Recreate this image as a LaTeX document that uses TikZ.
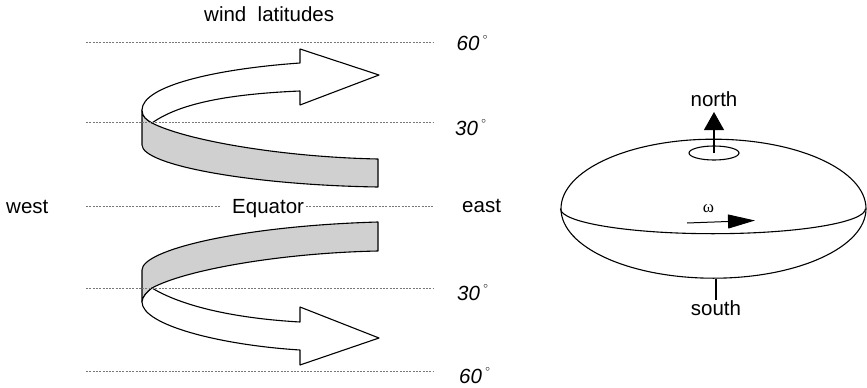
\documentclass[tikz,border=0pt]{standalone}
\usepackage{fontspec}
\setmainfont{Liberation Sans}
\newfontfamily\greekserif{Liberation Serif}
\usetikzlibrary{arrows.meta,shapes.geometric}
\definecolor{ribbon}{RGB}{208,208,208}
\definecolor{guide}{RGB}{120,120,120}
\newcommand{\degmark}{\,\raisebox{0.55em}{\fontsize{9}{9}\selectfont$\circ$}}
\begin{document}
\begin{tikzpicture}[x=1pt,y=-1pt,
  lbl/.style={inner sep=0pt, font=\fontsize{20.5}{24}\selectfont},
  deg/.style={inner sep=0pt, font=\fontsize{20.5}{24}\selectfont\itshape, anchor=base west},
  latline/.style={draw=guide, line width=0.6pt, dash pattern=on 2pt off 1.3pt},
  outline/.style={line width=1.1pt, line join=round},
  band/.style={outline, fill=ribbon},
  sheet/.style={outline, fill=white},
]
\useasboundingbox (0,0) rectangle (867,388);

% upper wind ribbon: shaded underside, then the white arrow on top
\draw[band] (142,110) -- (142,145)
  .. controls (142,165) and (250,185) .. (378,187) -- (378,159)
  .. controls (280,157) and (185,140) .. (152,123)
  .. controls (147,120) and (142,117) .. (142,110) -- cycle;
\draw[sheet] (142,110) .. controls (142,86) and (215,69) .. (300,63)
  -- (300,49) -- (379,75) -- (300,105) -- (300,91)
  .. controls (230,94) and (180,103) .. (152,123)
  .. controls (147,120) and (142,117) .. (142,110) -- cycle;

% lower wind ribbon
\draw[band] (142,302) -- (142,270)
  .. controls (142,250) and (240,226) .. (378,222) -- (378,251)
  .. controls (280,253) and (185,270) .. (152,288)
  .. controls (147,292) and (142,297) .. (142,302) -- cycle;
\draw[sheet] (142,302) .. controls (142,325) and (220,345) .. (300,350)
  -- (300,365) -- (379,338) -- (300,307) -- (300,322)
  .. controls (230,318) and (180,305) .. (152,288)
  .. controls (147,292) and (142,297) .. (142,302) -- cycle;

% latitude lines
\draw[latline] (86,42) -- (434,42);
\draw[latline] (86,122) -- (434,122);
\draw[latline] (86,206) -- (220,206);
\draw[latline] (306,206) -- (434,206);
\draw[latline] (86,288) -- (434,288);
\draw[latline] (86,371) -- (434,371);

% labels
\node[lbl, anchor=base west] (winds) at (204,21.7) {wind~~latitudes};
\node[lbl, anchor=base west] (west) at (6,213) {west};
\node[lbl, anchor=base west] (equator) at (232,213.5) {Equator};
\node[lbl, anchor=base west] (east) at (462,212) {east};
\node[deg] (n60) at (456.5,50.7) {60\degmark};
\node[deg] (n30) at (455,135) {30\degmark};
\node[deg] (s30) at (457,300) {30\degmark};
\node[deg] (s60) at (459,383) {60\degmark};

% rotating earth
\node[draw, outline, ellipse, minimum width=305pt, minimum height=139pt, inner sep=0pt] (earth) at (713.5,208.7) {};
\draw[outline] (earth.west) arc[start angle=180, end angle=0, x radius=152.5, y radius=25];
\node[draw, outline, ellipse, minimum width=50pt, minimum height=14pt, inner sep=0pt] (pole) at (714,153) {};
\coordinate (ntip) at (714,112);
\draw[outline, -{Triangle[length=18pt,width=20pt]}] (pole.center) -- (pole.center |- ntip);
\node[lbl, anchor=base] (north) at (714,106.7) {north};

\node[inner sep=0pt, font=\fontsize{17}{20}\selectfont\greekserif] (omega) at (708.5,208.5) {ω};
\coordinate (w1) at (687,223);
\coordinate (w2) at (755,220.5);
\draw[line width=1pt, -{Triangle[length=27pt,width=14pt]}] (w1) -- (w2);

\node[lbl, anchor=base] (south) at (716,315) {south};
\draw[outline] (south.north |- earth.south) -- (south.north);
\end{tikzpicture}
\end{document}
